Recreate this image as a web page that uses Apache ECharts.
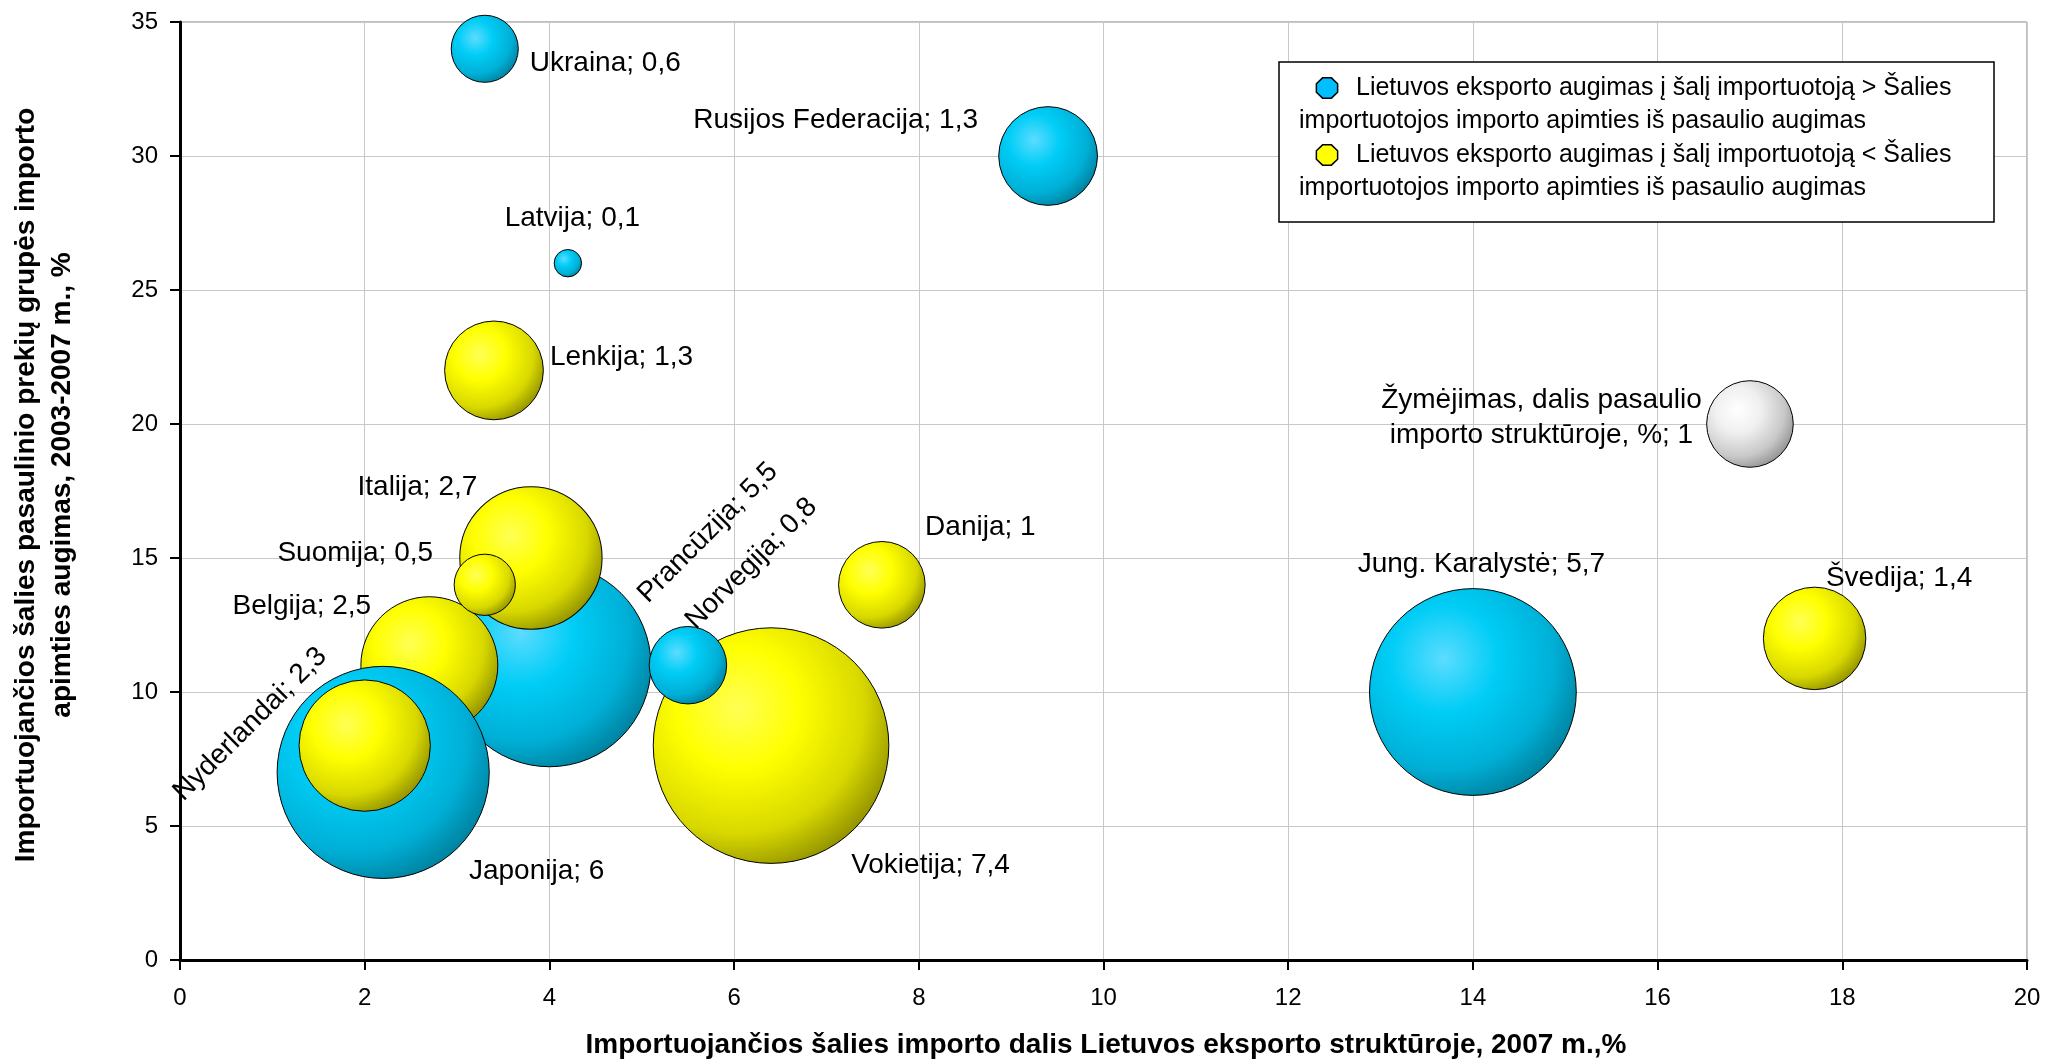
<!DOCTYPE html>
<html><head><meta charset="utf-8">
<script src="https://cdn.jsdelivr.net/npm/echarts@6/dist/echarts.min.js"></script>
<style>html,body{margin:0;padding:0;background:#fff}#c{width:2045px;height:1062px}</style>
</head><body><div id="c"></div>
<script>
// ---- data (draw order matters: later items drawn on top) ----
const countries = ['Prancūzija','Belgija','Italija','Suomija','Japonija','Nyderlandai','Vokietija','Norvegija',
  'Ukraina','Rusijos Federacija','Latvija','Lenkija','Danija','Jung. Karalystė','Švedija',
  'Žymėjimas, dalis pasaulio\nimporto struktūroje, %'];
const importShareInLtExport = [4.0, 2.7, 3.8, 3.3, 2.2, 2.0, 6.4, 5.5, 3.3, 9.4, 4.2, 3.4, 7.6, 14.0, 17.7, 17.0];
const importGrowth = [11, 11, 15, 14, 7, 8, 8, 11, 34, 30, 26, 22, 14, 10, 12, 20];
const worldImportShare = [5.5, 2.5, 2.7, 0.5, 6, 2.3, 7.4, 0.8, 0.6, 1.3, 0.1, 1.3, 1, 5.7, 1.4, 1];
const groupOf = ['up','down','down','down','up','down','down','up','up','up','up','down','down','up','down','ref'];
const xTickValues = [0, 2, 4, 6, 8, 10, 12, 14, 16, 18, 20];
const yTickValues = [0, 5, 10, 15, 20, 25, 30, 35];
const legendTexts = [
  ['Lietuvos eksporto augimas į šalį importuotoją > Šalies', 'importuotojos importo apimties iš pasaulio augimas'],
  ['Lietuvos eksporto augimas į šalį importuotoją < Šalies', 'importuotojos importo apimties iš pasaulio augimas']
];
const xTitle = 'Importuojančios šalies importo dalis Lietuvos eksporto struktūroje, 2007 m.,%';
const yTitle = 'Importuojančios šalies pasaulinio prekių grupės importo\napimties augimas, 2003-2007 m., %';

// ---- layout / style (not data) ----
const labelLayoutCfg = [ // [dx, dy, rotate] of label centre relative to bubble centre
  [159,-132,45],[-127,-58,0],[-113,-70,0],[-129,-31,0],[154,99,0],[-114,-21,45],[160,120,0],[64,-101,45],
  [121,15,0],[-212,-35,0],[5,-44,0],[128,-13,0],[99,-57,0],[9,-127,0],[85,-60,0],[-208,-6,0]
];
const K = 43.3; // bubble radius per sqrt(size)
const FONT = 'Arial, "Liberation Sans", sans-serif';
function sphere(c0, c1, c2, c3) {
  return {type:'radial', x:0.36, y:0.34, r:0.74, colorStops:[
    {offset:0, color:c0},{offset:0.35, color:c1},{offset:0.72, color:c2},{offset:1, color:c3}]};
}
const fills = {
  up: sphere('#5cdcff', '#00cdf6', '#00afd6', '#007a96'),
  down: sphere('#ffff55', '#ffff00', '#d8d800', '#888800'),
  ref: sphere('#ffffff', '#f0f0f0', '#c8c8c8', '#8a8a8a')
};

const data = countries.map((name, i) => {
  const v = worldImportShare[i];
  const r = K * Math.sqrt(v);
  const [dx, dy, rot] = labelLayoutCfg[i];
  return {
    name: name,
    value: [importShareInLtExport[i], importGrowth[i], v],
    itemStyle: {color: fills[groupOf[i]], borderColor: '#000', borderWidth: 1, opacity: 1},
    label: {
      show: true,
      formatter: name + '; ' + String(v).replace('.', ','),
      position: [r + dx, r + dy],
      rotate: rot,
      align: 'center', verticalAlign: 'middle',
      fontSize: 28, fontFamily: FONT, color: '#000', lineHeight: 35
    }
  };
});

function octagon(cx, cy, rx, ry) {
  const pts = [];
  for (let k = 0; k < 8; k++) {
    const a = (k * 45 + 22.5) * Math.PI / 180;
    pts.push([cx + rx * Math.cos(a), cy + ry * Math.sin(a)]);
  }
  return pts;
}
const legendIconColors = ['#00bfff', '#ffff00'];
const graphics = [
  {type:'rect', shape:{x:1279, y:62, width:715, height:160}, style:{fill:'#fff', stroke:'#000', lineWidth:1.5}, z:10}
];
legendTexts.forEach((lines, j) => {
  const y0 = 88 + j * 67;
  graphics.push({type:'polygon', shape:{points: octagon(1327, y0, 11.5, 11)}, style:{fill:legendIconColors[j], stroke:'#000', lineWidth:1.5}, z:11});
  graphics.push({type:'text', x:1356, y:y0, style:{text:lines[0], font:'25px ' + FONT, fill:'#000', align:'left', verticalAlign:'middle'}, z:11});
  graphics.push({type:'text', x:1299, y:y0 + 33.5, style:{text:lines[1], font:'25px ' + FONT, fill:'#000', align:'left', verticalAlign:'middle'}, z:11});
});
graphics.push({type:'text', x:1106, y:1045, style:{text:xTitle, font:'bold 28px ' + FONT, fill:'#000', align:'center', verticalAlign:'middle'}});
graphics.push({type:'text', x:44, y:485, rotation:Math.PI/2, style:{text:yTitle, font:'bold 28px ' + FONT, fill:'#000', align:'center', verticalAlign:'middle', lineHeight:36}});

const chart = echarts.init(document.getElementById('c'), null, {renderer:'canvas'});
chart.setOption({
  animation: false,
  backgroundColor: '#fff',
  grid: {left:180, right:18, top:22, bottom:102, show:true, borderColor:'#808080', borderWidth:1, backgroundColor:'transparent'},
  xAxis: {
    type:'value', min: xTickValues[0], max: xTickValues[xTickValues.length-1], interval: 2,
    axisLine:{show:true, onZero:false, lineStyle:{color:'#000', width:3}},
    axisTick:{show:true, inside:false, length:10, lineStyle:{color:'#000', width:2}},
    axisLabel:{fontSize:24, fontFamily:FONT, color:'#000', margin:26},
    splitLine:{show:true, lineStyle:{color:'#c8c8c8', width:1}}
  },
  yAxis: {
    type:'value', min: yTickValues[0], max: yTickValues[yTickValues.length-1], interval: 5,
    axisLine:{show:true, onZero:false, lineStyle:{color:'#000', width:3}},
    axisTick:{show:true, inside:false, length:10, lineStyle:{color:'#000', width:2}},
    axisLabel:{fontSize:24, fontFamily:FONT, color:'#000', margin:22},
    splitLine:{show:true, lineStyle:{color:'#c8c8c8', width:1}}
  },
  graphic: graphics,
  series: [{
    type:'scatter',
    clip:false,
    symbol:'circle',
    symbolSize: (val) => 2 * K * Math.sqrt(val[2]),
    data: data,
    itemStyle: {opacity: 1},
    labelLayout: {hideOverlap:false}
  }]
});
</script></body></html>
